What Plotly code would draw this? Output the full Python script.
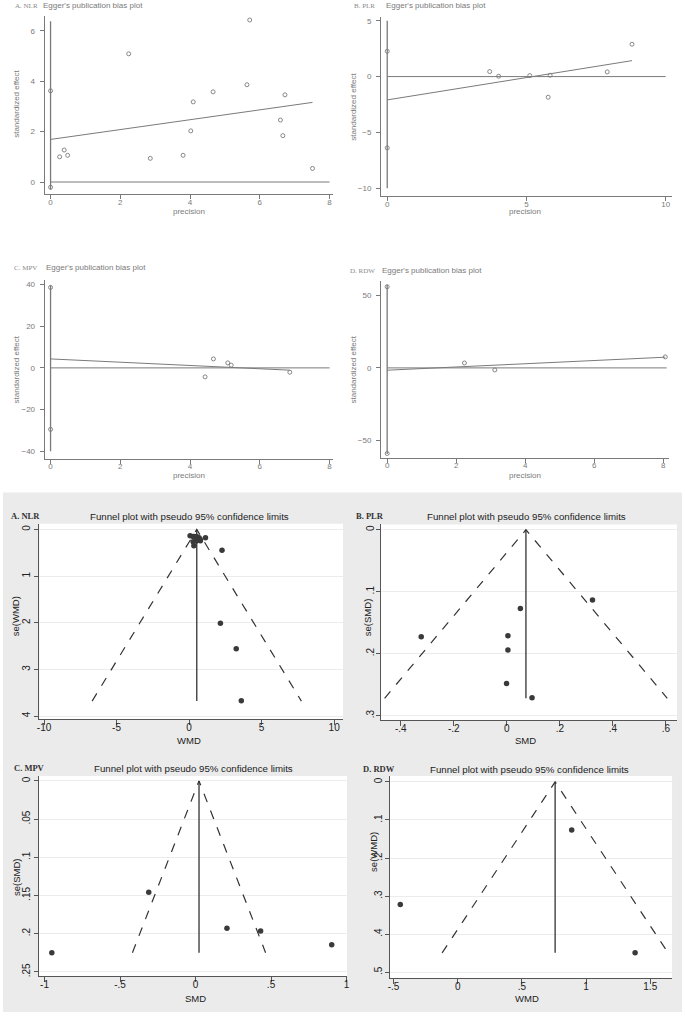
import plotly.graph_objects as go

W, H = 685, 1016

# ---------------- Egger's publication bias plots ----------------
egger_a_precision = [0.26, 0.39, 0.49, 2.24, 2.86, 3.80, 4.02, 4.09, 4.66, 5.63, 5.71, 6.59, 6.66, 6.72, 7.51]
egger_a_effect = [1.00, 1.27, 1.06, 5.09, 0.94, 1.06, 2.03, 3.18, 3.58, 3.86, 6.43, 2.46, 1.84, 3.46, 0.54]
egger_a_ci = [-0.21, 3.62]
egger_a_fit = [1.69, 3.16]
egger_a_vline = [-0.30, 6.38]

egger_b_precision = [3.68, 4.00, 5.12, 5.85, 5.78, 7.90, 8.79]
egger_b_effect = [0.45, 0.03, 0.09, 0.12, -1.85, 0.42, 2.90]
egger_b_ci = [-6.39, 2.27]
egger_b_fit = [-2.09, 1.43]
egger_b_vline = [-10.0, 5.0]

egger_c_precision = [4.43, 4.67, 5.08, 5.18, 6.86]
egger_c_effect = [-4.3, 4.3, 2.4, 1.3, -2.1]
egger_c_ci = [-29.5, 38.6]
egger_c_fit = [4.3, -1.1]
egger_c_vline = [-40.0, 39.7]

egger_d_precision = [2.24, 3.12, 8.06]
egger_d_effect = [3.4, -1.4, 7.6]
egger_d_ci = [-59.2, 56.1]
egger_d_fit = [-1.6, 7.4]
egger_d_vline = [-59.5, 57.5]

egger_zero_end = [8.0, 10.0, 8.0, 8.1]
egger_labels = ["A. NLR", "B. PLR", "C. MPV", "D. RDW"]
egger_xticks = [[0, 2, 4, 6, 8], [0, 5, 10], [0, 2, 4, 6, 8], [0, 2, 4, 6, 8]]
egger_yticks = [[0, 2, 4, 6], [-10, -5, 0, 5], [-40, -20, 0, 20, 40], [-50, 0, 50]]

# ---------------- Funnel plots ----------------
funnel_a_effect = [0.07, 1.13, 0.37, 0.28, 0.52, 0.69, 0.77, 0.78, 0.51, 0.28, 0.33, 2.27, 2.16, 3.25, 3.60]
funnel_a_se = [0.133, 0.175, 0.152, 0.150, 0.149, 0.178, 0.215, 0.244, 0.249, 0.263, 0.35, 0.446, 2.01, 2.56, 3.67]
funnel_a_pooled = 0.53
funnel_a_semax = 3.68

funnel_b_effect = [-0.323, 0.051, 0.004, 0.004, -0.001, 0.095, 0.323]
funnel_b_se = [0.1726, 0.127, 0.171, 0.194, 0.248, 0.271, 0.1135]
funnel_b_pooled = 0.072
funnel_b_semax = 0.272

funnel_c_effect = [-0.952, -0.31, 0.208, 0.431, 0.902]
funnel_c_se = [0.225, 0.1457, 0.193, 0.1967, 0.2147]
funnel_c_pooled = 0.023
funnel_c_semax = 0.225

funnel_d_effect = [-0.447, 0.888, 1.382]
funnel_d_se = [0.322, 0.126, 0.449]
funnel_d_pooled = 0.759
funnel_d_semax = 0.449

funnel_labels = ["A. NLR", "B. PLR", "C. MPV", "D. RDW"]
funnel_xtitles = ["WMD", "SMD", "SMD", "WMD"]
funnel_ytitles = ["se(WMD)", "se(SMD)", "se(SMD)", "se(WMD)"]
funnel_xticks = [[-10, -5, 0, 5, 10], [-0.4, -0.2, 0, 0.2, 0.4, 0.6], [-1, -0.5, 0, 0.5, 1], [-0.5, 0, 0.5, 1, 1.5]]
funnel_xticktext = [["-10", "-5", "0", "5", "10"], ["-.4", "-.2", "0", ".2", ".4", ".6"],
                    ["-1", "-.5", "0", ".5", "1"], ["-.5", "0", ".5", "1", "1.5"]]
funnel_yticks = [[0, 1, 2, 3, 4], [0, 0.1, 0.2, 0.3], [0, 0.05, 0.1, 0.15, 0.2, 0.25], [0, 0.1, 0.2, 0.3, 0.4, 0.5]]
funnel_yticktext = [["0", "1", "2", "3", "4"], ["0", ".1", ".2", ".3"],
                    ["0", ".05", ".1", ".15", ".2", ".25"], ["0", ".1", ".2", ".3", ".4", ".5"]]

SANS = "Liberation Sans, Arial, sans-serif"
SERIF = "Liberation Serif, Times New Roman, serif"
EG = "#7a7a7a"
FN = "#333333"

fig = go.Figure()
layout = dict(width=W, height=H, margin=dict(l=0, r=0, t=0, b=0),
              paper_bgcolor="white", plot_bgcolor="white", showlegend=False)
annotations = []
shapes = []


def px_domain(x0, x1, y0, y1):
    return [max(0, x0 / W), min(1, x1 / W)], [max(0, 1 - y1 / H), min(1, 1 - y0 / H)]


def ann(text, x, y, size, color, family=SANS, xanchor="left", angle=0):
    annotations.append(dict(text=text, x=x / W, y=1 - y / H, xref="paper", yref="paper",
                            showarrow=False, xanchor=xanchor, yanchor="middle", textangle=angle,
                            borderpad=0, font=dict(size=size, color=color, family=family)))


def names(i):
    s = "" if i == 1 else str(i)
    return "xaxis" + s, "yaxis" + s, "x" + s, "y" + s


# ------------ Egger panels ------------
egger_sets = [
    (egger_a_precision, egger_a_effect, egger_a_ci, egger_a_fit, egger_a_vline),
    (egger_b_precision, egger_b_effect, egger_b_ci, egger_b_fit, egger_b_vline),
    (egger_c_precision, egger_c_effect, egger_c_ci, egger_c_fit, egger_c_vline),
    (egger_d_precision, egger_d_effect, egger_d_ci, egger_d_fit, egger_d_vline),
]
egger_boxes = [(42, 333, 16, 194.3), (381.3, 675, 16.7, 196.5), (42, 333, 280, 459), (381.3, 672, 281.7, 458)]
egger_xr = [[-0.17, 8.10], [-0.225, 10.23], [-0.17, 8.10], [-0.18, 8.17]]
egger_yr = [[-0.48, 6.59], [-10.73, 5.37], [-43.5, 42.3], [-62.0, 59.8]]
egger_text_pos = [  # label x, title x, title y, ytitle x, ytitle y, xtitle x, xtitle y
    (11, 39, 6, 14, 104, 188, 212),
    (353, 385, 6, 354, 107, 527, 212),
    (10, 42, 268, 14, 370, 188, 476),
    (349, 381, 271, 354, 370, 527, 476),
]

for k, (prec, eff, ci, fit, vl) in enumerate(egger_sets):
    i = k + 1
    xa, ya, xr, yr = names(i)
    xd, yd = px_domain(*egger_boxes[k])
    common = dict(showline=True, linecolor=EG, linewidth=1, ticks="outside", ticklen=4,
                  tickcolor=EG, tickfont=dict(size=8, color=EG, family=SANS),
                  showgrid=False, zeroline=False, fixedrange=True)
    layout[xa] = dict(domain=xd, range=egger_xr[k], anchor=yr, tickvals=egger_xticks[k],
                      ticklabelstandoff=-4, **common)
    layout[ya] = dict(domain=yd, range=egger_yr[k], anchor=xr, tickvals=egger_yticks[k],
                      ticklabelstandoff=3, **common)
    ln = dict(color=EG, width=1)
    fig.add_trace(go.Scatter(x=[0, egger_zero_end[k]], y=[0, 0], mode="lines", line=ln, xaxis=xr, yaxis=yr))
    fig.add_trace(go.Scatter(x=[0, 0], y=vl, mode="lines", line=dict(color=EG, width=1.3), xaxis=xr, yaxis=yr))
    fig.add_trace(go.Scatter(x=[0, max(prec)], y=fit, mode="lines", line=ln, xaxis=xr, yaxis=yr))
    fig.add_trace(go.Scatter(x=prec, y=eff, mode="markers",
                             marker=dict(symbol="circle-open", size=4, color=EG, line=dict(width=0.9, color=EG)),
                             xaxis=xr, yaxis=yr))
    fig.add_trace(go.Scatter(x=[0, 0], y=ci, mode="markers",
                             marker=dict(symbol="circle-open", size=4, color=EG, line=dict(width=0.9, color=EG)),
                             xaxis=xr, yaxis=yr))
    lx, tx, ty, yx, yy, xx, xy = egger_text_pos[k]
    ann(egger_labels[k], lx, ty, 7, "#8a8a8a", SERIF)
    ann("Egger's publication bias plot", tx, ty, 8, EG)
    ann("standardized effect", yx, yy, 8, EG, xanchor="center", angle=-90)
    ann("precision", xx, xy, 8, EG, xanchor="center")

# ------------ Funnel panels ------------
gx, gy = px_domain(0, 685, 493, 1013)
shapes.append(dict(type="rect", xref="paper", yref="paper", x0=gx[0], x1=gx[1], y0=gy[0], y1=gy[1],
                   fillcolor="#ebebeb", line=dict(width=0), layer="below"))

funnel_sets = [
    (funnel_a_effect, funnel_a_se, funnel_a_pooled, funnel_a_semax),
    (funnel_b_effect, funnel_b_se, funnel_b_pooled, funnel_b_semax),
    (funnel_c_effect, funnel_c_se, funnel_c_pooled, funnel_c_semax),
    (funnel_d_effect, funnel_d_se, funnel_d_pooled, funnel_d_semax),
]
funnel_boxes = [(36.7, 343, 524.3, 720), (381, 680, 525, 720.7), (36, 347, 776.7, 977.3), (390.3, 675, 776.7, 979.3)]
funnel_xr = [[-10.32, 10.61], [-0.476, 0.642], [-1.039, 1.003], [-0.528, 1.67]]
funnel_yr = [[4.07, -0.122], [0.307, -0.0085], [0.256, -0.0065], [0.516, -0.0157]]
funnel_ystandoff = [0, -2, 0, -1]
funnel_text_pos = [  # label x, title cx, title y, ytitle x, ytitle y, xtitle x, xtitle y
    (7, 188, 517, 13, 617, 188, 741),
    (355, 528, 517, 368, 618, 527, 741),
    (10, 192, 769, 13, 878, 194, 999),
    (362, 531, 770, 373, 853, 529, 999),
]

for k, (eff, se, pooled, semax) in enumerate(funnel_sets):
    i = k + 5
    xa, ya, xr, yr = names(i)
    x0, x1, y0, y1 = funnel_boxes[k]
    xd, yd = px_domain(x0, x1, y0, y1)
    shapes.append(dict(type="rect", xref="paper", yref="paper", x0=xd[0], x1=xd[1], y0=yd[0], y1=yd[1],
                       fillcolor="white", line=dict(width=0), layer="below"))
    common = dict(showline=True, linecolor="#555555", linewidth=1, ticks="outside",
                  tickcolor="#555555", tickfont=dict(size=10, color="#222222", family=SANS),
                  zeroline=False, fixedrange=True)
    layout[xa] = dict(domain=xd, range=funnel_xr[k], anchor=yr, tickvals=funnel_xticks[k], ticklen=5,
                      ticktext=funnel_xticktext[k], showgrid=False, ticklabelstandoff=-6, **common)
    layout[ya] = dict(domain=yd, range=funnel_yr[k], anchor=xr, tickvals=funnel_yticks[k], ticklen=4,
                      ticktext=funnel_yticktext[k], tickangle=-90, showgrid=True,
                      gridcolor="#ececec", gridwidth=1, ticklabelstandoff=funnel_ystandoff[k], **common)
    half = 1.96 * semax
    fig.add_trace(go.Scatter(x=[pooled - half, pooled, pooled + half], y=[semax, 0, semax], mode="lines",
                             line=dict(color=FN, width=1.2, dash="dash"), xaxis=xr, yaxis=yr))
    fig.add_trace(go.Scatter(x=[pooled, pooled], y=[0, semax], mode="lines",
                             line=dict(color=FN, width=1.3), xaxis=xr, yaxis=yr))
    fig.add_trace(go.Scatter(x=eff, y=se, mode="markers",
                             marker=dict(symbol="circle", size=5.5, color="#3a3a3a"), xaxis=xr, yaxis=yr))
    lx, tcx, ty, yx, yy, xx, xy = funnel_text_pos[k]
    ann("<b>" + funnel_labels[k] + "</b>", lx, ty, 8.5, "#333333", SERIF)
    ann("Funnel plot with pseudo 95% confidence limits", tcx, ty, 9.7, "#222222", xanchor="center")
    ann(funnel_ytitles[k], yx, yy, 9.5, "#222222", xanchor="center", angle=-90)
    ann(funnel_xtitles[k], xx, xy, 9.5, "#222222", xanchor="center")

layout["annotations"] = annotations
layout["shapes"] = shapes
fig.update_layout(**layout)
fig.write_html(
    "out.html",
    config={"displayModeBar": False},
    post_script="document.body.style.margin='0';document.documentElement.style.overflow='hidden';",
)
